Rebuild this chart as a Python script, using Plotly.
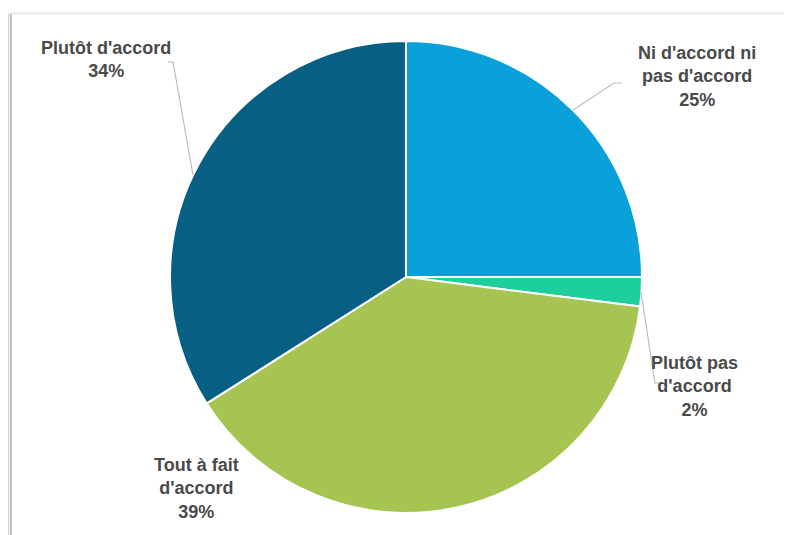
import plotly.graph_objects as go

labels = ["Ni d'accord ni pas d'accord", "Plutôt pas d'accord", "Tout à fait d'accord", "Plutôt d'accord"]
values = [25, 2, 39, 34]
colors = ["#0aa0da", "#1ecf9d", "#a6c451", "#075f84"]
label_texts = ["Ni d'accord ni<br>pas d'accord<br>25%", "Plutôt pas<br>d'accord<br>2%",
               "Tout à fait<br>d'accord<br>39%", "Plutôt d'accord<br>34%"]

# page has an 8px body margin; figure sized to fill the rest of the window
OFF = 8
W, H = 792 - OFF, 535 - OFF
def px(x):
    return (x - OFF) / W
def py(y):
    return 1 - (y - OFF) / H

fig = go.Figure(go.Pie(
    labels=labels, values=values, sort=False, direction="clockwise", rotation=0,
    marker=dict(colors=colors, line=dict(color="white", width=2)),
    textinfo="none", hoverinfo="label+percent", showlegend=False,
    domain=dict(x=[px(170), px(642)], y=[py(513), py(41)]),
))

label_pos = [(697, 77), (694, 386), (196, 488), (106, 60)]
annotations = []
for t, (x, y) in zip(label_texts, label_pos):
    annotations.append(dict(x=px(x), y=py(y), xref="paper", yref="paper", text=f"<b>{t}</b>", showarrow=False,
                            font=dict(family="Liberation Sans, Arial", size=18, color="#4a4a4a"),
                            align="center", xanchor="center", yanchor="middle"))

shapes = []
def path(pts, color="#bdbdbd", width=1.2):
    d = "M " + " L ".join(f"{px(x)},{py(y)}" for x, y in pts)
    shapes.append(dict(type="path", path=d, xref="paper", yref="paper",
                       line=dict(color=color, width=width)))

# leader lines
path([(168, 62), (173, 62), (193, 175)])
path([(622, 83), (614, 83), (573, 110)])
path([(641, 292), (655, 383), (662, 383)])

# frame
for i, a in enumerate([0.04, 0.07, 0.1, 0.14, 0.18]):
    x = 5 + i
    shapes.append(dict(type="line", xref="paper", yref="paper", x0=px(x), x1=px(x), y0=py(13), y1=0,
                       line=dict(color=f"rgba(0,0,0,{a})", width=1)))
shapes.append(dict(type="line", xref="paper", yref="paper", x0=px(11), x1=px(11), y0=py(13), y1=0,
                   line=dict(color="#c2c2c2", width=2)))
shapes.append(dict(type="line", xref="paper", yref="paper", x0=px(10), x1=1, y0=py(13.5), y1=py(13.5),
                   line=dict(color="#e4e4e4", width=1.5)))
shapes.append(dict(type="line", xref="paper", yref="paper", x0=px(10), x1=1, y0=py(11.5), y1=py(11.5),
                   line=dict(color="rgba(0,0,0,0.03)", width=2)))

fig.update_layout(width=W, height=H, margin=dict(l=0, r=0, t=0, b=0),
                  paper_bgcolor="white", plot_bgcolor="white",
                  annotations=annotations, shapes=shapes)
fig.write_html("out.html")
